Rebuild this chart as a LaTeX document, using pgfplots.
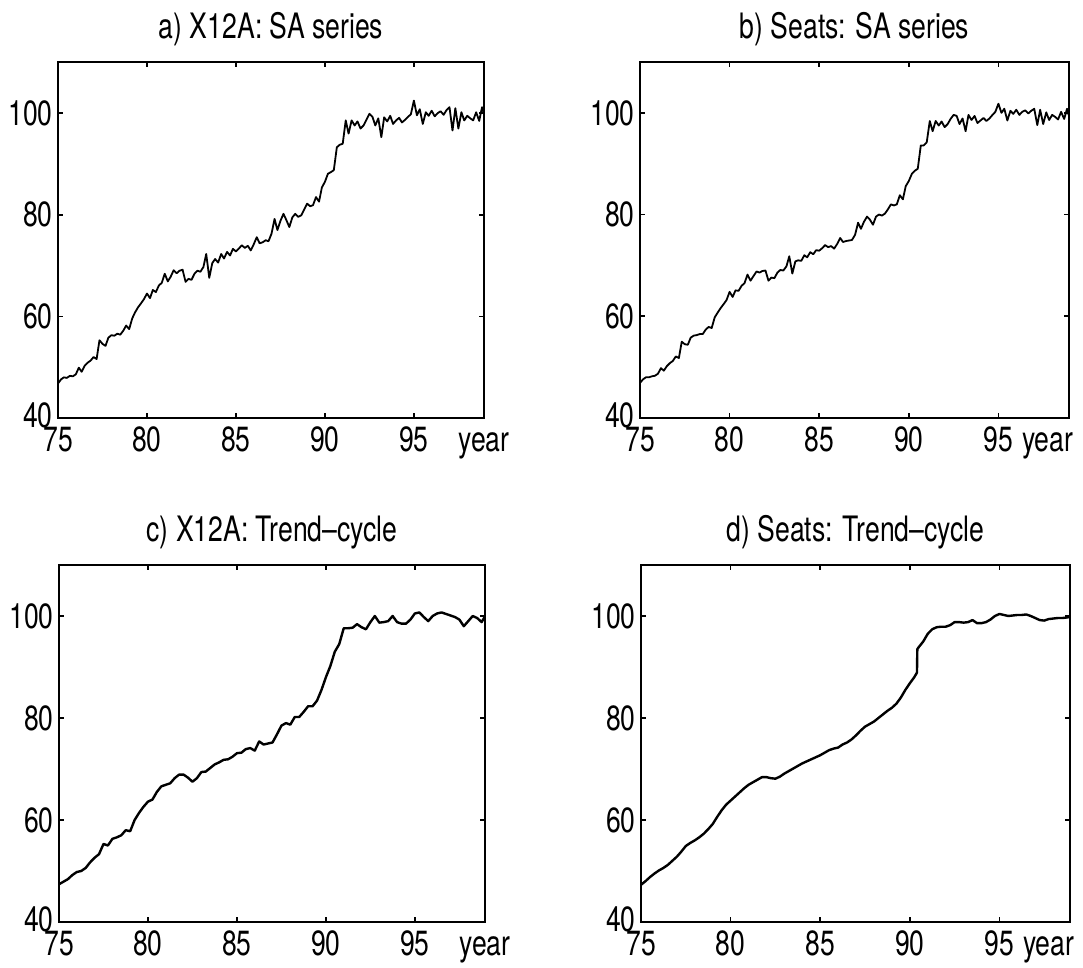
\documentclass[border=0pt]{standalone}
\usepackage{fontspec}
\setmainfont{TeX Gyre Heros}[FakeStretch=0.76]
\usepackage{pgfplots}
\pgfplotsset{compat=1.18}
\usepackage{pgfplotstable}

% X12A seasonally adjusted series (two-monthly readings)
\pgfplotstableread{
x y
75.00 46.8
75.17 47.6
75.33 48.0
75.50 47.9
75.67 48.3
75.83 48.2
76.00 48.6
76.17 49.9
76.33 49.1
76.50 50.3
76.67 50.9
76.83 51.3
77.00 52.0
77.17 51.6
77.33 55.3
77.50 54.6
77.67 54.2
77.83 55.8
78.00 56.3
78.17 56.2
78.33 56.6
78.50 56.4
78.67 57.2
78.83 58.2
79.00 57.5
79.17 59.6
79.33 60.8
79.50 61.8
79.67 62.6
79.83 63.4
80.00 64.5
80.17 63.6
80.33 65.2
80.50 64.8
80.67 66.1
80.83 66.6
81.00 68.4
81.17 66.9
81.33 67.8
81.50 69.1
81.67 68.5
81.83 69.0
82.00 69.2
82.17 66.8
82.33 67.4
82.50 67.2
82.67 68.4
82.83 69.0
83.00 68.8
83.17 69.7
83.33 72.3
83.50 67.6
83.67 70.5
83.83 71.3
84.00 70.6
84.17 72.3
84.33 71.4
84.50 72.7
84.67 72.0
84.83 73.3
85.00 72.8
85.17 73.4
85.33 74.0
85.50 73.5
85.67 73.9
85.83 73.0
86.00 74.2
86.17 75.6
86.33 74.4
86.50 74.6
86.67 75.0
86.83 74.8
87.00 76.3
87.17 79.2
87.33 77.0
87.50 78.8
87.67 80.2
87.83 79.0
88.00 77.6
88.17 79.5
88.33 80.2
88.50 79.6
88.67 79.9
88.83 81.0
89.00 82.2
89.17 81.7
89.33 81.9
89.50 83.5
89.67 82.6
89.83 85.4
90.00 86.5
90.17 88.1
90.33 88.4
90.50 88.8
90.67 93.3
90.83 93.8
91.00 94.0
91.17 98.6
91.33 96.0
91.50 98.6
91.67 97.6
91.83 98.4
92.00 97.0
92.17 97.6
92.33 98.7
92.50 99.9
92.67 99.3
92.83 97.6
93.00 99.0
93.17 95.3
93.33 99.2
93.50 98.4
93.67 99.5
93.83 97.9
94.00 98.6
94.17 99.1
94.33 98.2
94.50 98.7
94.67 99.3
94.83 99.8
95.00 102.5
95.17 99.6
95.33 100.8
95.50 97.9
95.67 100.2
95.83 99.5
96.00 100.5
96.17 99.4
96.33 100.0
96.50 100.4
96.67 99.7
96.83 100.6
97.00 101.2
97.17 96.6
97.33 101.0
97.50 97.0
97.67 100.2
97.83 98.6
98.00 99.5
98.17 99.0
98.33 98.6
98.50 100.2
98.67 98.5
98.83 101.2
98.92 100.2
}\saxtwelve

% Seats seasonally adjusted series
\pgfplotstableread{
x y
75.00 46.9
75.17 47.6
75.33 48.0
75.50 48.0
75.67 48.2
75.83 48.3
76.00 48.7
76.17 49.8
76.33 49.3
76.50 50.2
76.67 50.8
76.83 51.2
77.00 52.1
77.17 51.8
77.33 55.0
77.50 54.5
77.67 54.4
77.83 55.8
78.00 56.2
78.17 56.3
78.33 56.5
78.50 56.5
78.67 57.4
78.83 57.9
79.00 57.7
79.17 59.8
79.33 60.7
79.50 61.6
79.67 62.4
79.83 63.2
80.00 64.8
80.17 63.8
80.33 65.1
80.50 65.0
80.67 66.0
80.83 66.5
81.00 68.2
81.17 67.0
81.33 67.9
81.50 68.8
81.67 68.6
81.83 68.9
82.00 69.0
82.17 67.0
82.33 67.6
82.50 67.5
82.67 68.6
82.83 69.1
83.00 69.0
83.17 69.8
83.33 71.8
83.50 68.4
83.67 70.8
83.83 71.0
84.00 70.9
84.17 72.0
84.33 71.6
84.50 72.6
84.67 72.2
84.83 73.0
85.00 72.9
85.17 73.4
85.33 74.0
85.50 73.6
85.67 73.8
85.83 73.3
86.00 74.2
86.17 75.4
86.33 74.6
86.50 74.8
86.67 74.9
86.83 75.0
87.00 76.0
87.17 78.4
87.33 77.2
87.50 78.6
87.67 79.6
87.83 79.0
88.00 78.0
88.17 79.6
88.33 80.0
88.50 79.8
88.67 80.2
88.83 81.0
89.00 82.0
89.17 81.8
89.33 82.0
89.50 83.8
89.67 83.0
89.83 85.6
90.00 86.6
90.17 88.0
90.33 88.6
90.50 89.0
90.67 93.6
90.83 93.6
91.00 94.2
91.17 98.4
91.33 96.4
91.50 98.4
91.67 97.5
91.83 98.3
92.00 97.2
92.17 97.8
92.33 98.8
92.50 99.6
92.67 99.4
92.83 97.8
93.00 98.9
93.17 96.4
93.33 99.6
93.50 98.6
93.67 99.4
93.83 98.0
94.00 98.5
94.17 99.0
94.33 98.4
94.50 98.9
94.67 99.6
94.83 100.2
95.00 101.8
95.17 100.0
95.33 100.8
95.50 98.5
95.67 100.4
95.83 99.8
96.00 100.6
96.17 99.6
96.33 100.2
96.50 100.5
96.67 99.9
96.83 100.4
97.00 100.8
97.17 97.6
97.33 100.6
97.50 97.8
97.67 100.1
97.83 98.6
98.00 99.6
98.17 99.2
98.33 98.7
98.50 100.2
98.67 98.8
98.83 100.8
98.92 99.6
}\saseats

% X12A trend-cycle (quarterly readings)
\pgfplotstableread{
x y
75.00 47.4
75.25 47.9
75.50 48.4
75.75 49.2
76.00 49.8
76.25 50.0
76.50 50.6
76.75 51.7
77.00 52.6
77.25 53.3
77.50 55.3
77.75 55.0
78.00 56.3
78.25 56.6
78.50 57.0
78.75 58.0
79.00 57.8
79.25 60.0
79.50 61.4
79.75 62.6
80.00 63.6
80.25 64.0
80.50 65.5
80.75 66.6
81.00 66.9
81.25 67.2
81.50 68.2
81.75 68.9
82.00 68.9
82.25 68.3
82.50 67.5
82.75 68.2
83.00 69.4
83.25 69.5
83.50 70.2
83.75 70.9
84.00 71.3
84.25 71.8
84.50 71.9
84.75 72.4
85.00 73.1
85.25 73.2
85.50 73.9
85.75 74.1
86.00 73.6
86.25 75.4
86.50 74.8
86.75 75.0
87.00 75.2
87.25 76.8
87.50 78.5
87.75 79.0
88.00 78.7
88.25 80.2
88.50 80.2
88.75 81.2
89.00 82.3
89.25 82.3
89.50 83.4
89.75 85.5
90.00 88.0
90.25 90.2
90.50 93.0
90.75 94.5
91.00 97.6
91.25 97.6
91.50 97.7
91.75 98.4
92.00 97.8
92.25 97.4
92.50 98.8
92.75 100.0
93.00 98.7
93.25 98.8
93.50 99.0
93.75 100.0
94.00 98.8
94.25 98.5
94.50 98.5
94.75 99.3
95.00 100.5
95.25 100.7
95.50 99.8
95.75 99.0
96.00 100.0
96.25 100.5
96.50 100.7
96.75 100.4
97.00 100.1
97.25 99.8
97.50 99.3
97.75 98.0
98.00 99.0
98.25 100.0
98.50 99.6
98.75 98.8
98.92 99.8
}\trxtwelve

% Seats trend-cycle
\pgfplotstableread{
x y
75.00 47.3
75.25 48.0
75.50 48.8
75.75 49.5
76.00 50.1
76.25 50.6
76.50 51.2
76.75 52.0
77.00 52.8
77.25 53.8
77.50 54.9
77.75 55.5
78.00 56.0
78.25 56.6
78.50 57.3
78.75 58.2
79.00 59.2
79.25 60.6
79.50 61.9
79.75 63.0
80.00 63.8
80.25 64.6
80.50 65.4
80.75 66.2
81.00 66.9
81.25 67.4
81.50 67.9
81.75 68.4
82.00 68.4
82.25 68.2
82.50 68.1
82.75 68.5
83.00 69.1
83.25 69.6
83.50 70.1
83.75 70.6
84.00 71.1
84.25 71.5
84.50 71.9
84.75 72.3
85.00 72.7
85.25 73.2
85.50 73.7
85.75 74.0
86.00 74.2
86.25 74.8
86.50 75.2
86.75 75.8
87.00 76.6
87.25 77.5
87.50 78.3
87.75 78.8
88.00 79.3
88.25 80.0
88.50 80.7
88.75 81.4
89.00 82.0
89.25 82.8
89.50 84.0
89.75 85.5
90.00 86.8
90.25 88.0
90.40 88.9
90.42 93.5
90.50 93.9
90.75 95.0
91.00 96.5
91.25 97.4
91.50 97.8
91.75 97.9
92.00 97.9
92.25 98.2
92.50 98.8
92.75 98.8
93.00 98.7
93.25 98.8
93.50 99.2
93.75 98.6
94.00 98.6
94.25 98.8
94.50 99.3
94.75 100.0
95.00 100.4
95.25 100.2
95.50 100.0
95.75 100.1
96.00 100.2
96.25 100.2
96.50 100.3
96.75 100.0
97.00 99.6
97.25 99.2
97.50 99.1
97.75 99.4
98.00 99.5
98.25 99.6
98.50 99.6
98.75 99.7
98.92 99.8
}\trseats

\newcommand\bigfont{\fontsize{17.5}{20}\selectfont}

\pgfplotsset{
  every axis title/.style={at={(0.5,1)}, anchor=base, yshift=12pt, font=\bigfont},
  panel/.style={
    scale only axis,
    anchor=south west,
    xmin=75, xmax=98.94,
    ymin=40, ymax=110,
    xtick={75,80,85,90,95},
    ytick={40,60,80,100},
    yticklabels={\raisebox{3pt}{40},60,80,100},
    tick align=inside,
    major tick length=2.5pt,
    axis line style={line width=1pt},
    every tick/.style={black, line width=0.8pt},
    tick label style={font=\bigfont},
    /pgf/number format/assume math mode=true,
    yticklabel style={inner xsep=2.5pt},
    xticklabel style={yshift=-1pt},
    clip=false,
  },
  series/.style={black, line width=0.9pt, line join=round, mark=none},
}

\begin{document}
\begin{tikzpicture}
\useasboundingbox (0,0) rectangle (541.5pt,484pt);

\begin{axis}[panel, at={(29pt,275pt)}, width=213pt, height=177.75pt,
  title={a) X12A: SA series}]
  \addplot[series] table {\saxtwelve};
  \node[anchor=north, font=\bigfont, yshift=-1pt] at (axis cs:98.94,40) {\vphantom{0}year};
\end{axis}

\begin{axis}[panel, at={(320pt,275pt)}, width=214.5pt, height=178pt,
  title={b) Seats: SA series}]
  \addplot[series] table {\saseats};
  \node[anchor=north west, inner xsep=0pt, font=\bigfont, yshift=-1pt] at (axis cs:96.3,40) {\vphantom{0}year};
\end{axis}

\begin{axis}[panel, at={(29.5pt,23pt)}, width=213pt, height=178.5pt,
  title={c) X12A: Trend–cycle}]
  \addplot[series, line width=1.2pt] table {\trxtwelve};
  \node[anchor=north, font=\bigfont, yshift=-1pt] at (axis cs:98.94,40) {\vphantom{0}year};
\end{axis}

\begin{axis}[panel, at={(320.5pt,23pt)}, width=214.5pt, height=178.5pt,
  title={d) Seats: Trend–cycle}]
  \addplot[series, line width=1.2pt] table {\trseats};
  \node[anchor=north west, inner xsep=0pt, font=\bigfont, yshift=-1pt] at (axis cs:96.3,40) {\vphantom{0}year};
\end{axis}
\end{tikzpicture}
\end{document}
